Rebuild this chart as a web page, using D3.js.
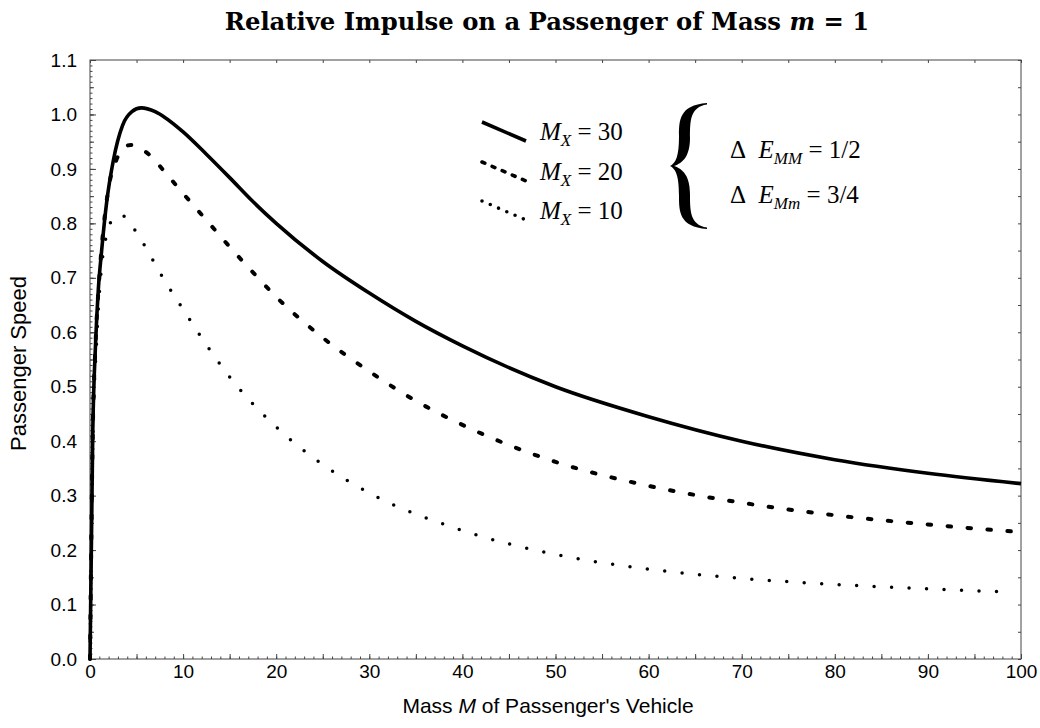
<!DOCTYPE html>
<html>
<head>
<meta charset="utf-8">
<script src="https://cdn.jsdelivr.net/npm/d3@7"></script>
<style>
  body { margin: 0; background: #fff; }
  svg { display: block; }
  .tick text { font-family: "Liberation Sans", Arial, sans-serif; font-size: 19px; fill: #000; }
</style>
</head>
<body>
<svg id="chart" width="1040" height="728"></svg>
<script>
// curve readings, [M, passenger speed]
var mx30 = [[0,0],[0.3,0.42],[0.6,0.58],[0.9,0.68],[1.25,0.75],[1.8,0.84],[2.5,0.915],[3.5,0.98],
  [4.5,1.005],[5.5,1.012],[7,1.005],[8,0.995],[10,0.968],[12.5,0.927],[15,0.884],[17.5,0.84],
  [20,0.80],[25,0.73],[30,0.672],[35,0.62],[40,0.575],[50,0.50],[60,0.445],[70,0.40],[80,0.366],[90,0.341],[100,0.322]];

var mx20 = [[0,0],[0.3,0.42],[0.6,0.58],[1.0,0.70],[1.5,0.80],[2.1,0.875],[2.8,0.915],[3.5,0.937],
  [4.4,0.944],[5.5,0.937],[6.5,0.924],[8.2,0.891],[10,0.855],[12.5,0.806],[15,0.757],
  [17.5,0.71],[20,0.665],[25,0.59],[30,0.528],[35,0.474],[40,0.43],[50,0.362],[60,0.318],[70,0.287],
  [80,0.264],[90,0.247],[100,0.233]];

var mx10 = [[0,0],[0.3,0.40],[0.7,0.58],[1.3,0.73],[1.6,0.764],[2.0,0.793],[2.6,0.81],[3.2,0.816],
  [4.0,0.808],[4.7,0.791],[5.8,0.761],[6.8,0.731],[7.8,0.701],[8.9,0.671],[10,0.642],[12.5,0.577],
  [15,0.518],[20,0.426],[25,0.357],[30,0.305],[40,0.236],[50,0.192],[60,0.165],[70,0.148],[80,0.137],
  [90,0.129],[98.5,0.123]];

var seriesNames = ["30", "20", "10"];
var xTickLabels = d3.range(0, 101, 10);
var yTickLabels = d3.range(0, 1.101, 0.1);

var svg = d3.select("#chart"),
    margin = {top: 60, left: 90, bottom: 69, right: 19},
    width = +svg.attr("width"),
    height = +svg.attr("height");

var x = d3.scaleLinear().domain([0, 100]).range([margin.left, width - margin.right]);
var y = d3.scaleLinear().domain([0, 1.1]).range([height - margin.bottom, margin.top]);

// title
var title = svg.append("text")
    .attr("x", 547).attr("y", 30)
    .attr("text-anchor", "middle")
    .style("font-family", "'DejaVu Serif', serif")
    .style("font-weight", "bold")
    .style("font-size", "20px");
title.append("tspan").text("Relative Impulse on a Passenger of Mass ");
title.append("tspan").style("font-style", "italic").text("m");
title.append("tspan").text(" = 1");
// squeeze the title to the width it has in the picture
var tw = title.node().getComputedTextLength();
title.style("font-size", (20 * 645 / tw) + "px");

// frame
svg.append("rect")
    .attr("x", x(0)).attr("y", y(1.1))
    .attr("width", x(100) - x(0)).attr("height", y(0) - y(1.1))
    .attr("fill", "none").attr("stroke", "#444").attr("stroke-width", 1);

// bottom ticks
svg.append("g").attr("transform", `translate(0,${y(0)})`)
    .call(d3.axisBottom(x).tickValues(d3.range(0, 101, 1)).tickSize(-2.5).tickFormat(""))
    .call(g => g.select(".domain").remove());
svg.append("g").attr("transform", `translate(0,${y(0)})`)
    .call(d3.axisBottom(x).tickValues(d3.range(0, 101, 5)).tickSize(-5).tickPadding(6)
        .tickFormat(d => xTickLabels.includes(d) ? d : ""))
    .call(g => g.select(".domain").remove());

// left ticks
svg.append("g").attr("transform", `translate(${x(0)},0)`)
    .call(d3.axisLeft(y).tickValues(d3.range(0, 1.1001, 0.01)).tickSize(-2.5).tickFormat(""))
    .call(g => g.select(".domain").remove());
svg.append("g").attr("transform", `translate(${x(0)},0)`)
    .call(d3.axisLeft(y).tickValues(d3.range(0, 1.1001, 0.05)).tickSize(-4).tickFormat(""))
    .call(g => g.select(".domain").remove());
svg.append("g").attr("transform", `translate(${x(0)},0)`)
    .call(d3.axisLeft(y).tickValues(yTickLabels).tickSize(-6).tickPadding(13).tickFormat(d3.format(".1f")))
    .call(g => g.select(".domain").remove());

// top and right ticks
svg.append("g").attr("transform", `translate(0,${y(1.1)})`)
    .call(d3.axisTop(x).tickValues(d3.range(0, 101, 5)).tickSize(-3).tickFormat(""))
    .call(g => g.select(".domain").remove());
svg.append("g").attr("transform", `translate(${x(100)},0)`)
    .call(d3.axisRight(y).tickValues(d3.range(0, 1.1001, 0.05)).tickSize(-3).tickFormat(""))
    .call(g => g.select(".domain").remove());

svg.selectAll(".tick line").attr("stroke", "#444");

// axis titles
svg.append("text")
    .attr("transform", `translate(26,${(y(0) + y(1.1)) / 2 + 4}) rotate(-90)`)
    .attr("text-anchor", "middle")
    .style("font-family", "'Liberation Sans', Arial, sans-serif")
    .style("font-size", "22px")
    .text("Passenger Speed");

var xt = svg.append("text")
    .attr("x", 548).attr("y", 713)
    .attr("text-anchor", "middle")
    .style("font-family", "'Liberation Sans', Arial, sans-serif")
    .style("font-size", "21px");
xt.append("tspan").text("Mass ");
xt.append("tspan").style("font-style", "italic").text("M");
xt.append("tspan").text(" of Passenger's Vehicle");

// curves
var line = d3.line().x(d => x(d[0])).y(d => y(d[1])).curve(d3.curveMonotoneX);

svg.append("path").datum(mx30).attr("d", line)
    .attr("fill", "none").attr("stroke", "#000").attr("stroke-width", 3.6);
svg.append("path").datum(mx20).attr("d", line)
    .attr("fill", "none").attr("stroke", "#000").attr("stroke-width", 4)
    .attr("stroke-linecap", "round").attr("stroke-dasharray", "3.5,16.5");
svg.append("path").datum(mx10).attr("d", line)
    .attr("fill", "none").attr("stroke", "#000").attr("stroke-width", 3.5)
    .attr("stroke-linecap", "round").attr("stroke-dasharray", "0,17.5");

// legend
var legendDash = [null, "3,8", "0,9"];
var legendY = [140, 180, 219];
seriesNames.forEach(function(s, i) {
    var ly = legendY[i];
    var seg = svg.append("line")
        .attr("x1", 482).attr("y1", ly - 18).attr("x2", 526).attr("y2", ly + 1)
        .attr("stroke", "#000").attr("stroke-width", 3.6)
        .attr("stroke-linecap", i == 0 ? "butt" : "round");
    if (legendDash[i]) seg.attr("stroke-dasharray", legendDash[i]);

    var t = svg.append("text").attr("x", 540).attr("y", ly)
        .style("font-family", "'Liberation Serif', 'DejaVu Serif', serif")
        .style("font-size", "25px");
    t.append("tspan").style("font-style", "italic").text("M");
    t.append("tspan").style("font-style", "italic").style("font-size", "17px").attr("dy", 6).text("X");
    t.append("tspan").attr("dy", -6).text(" = " + s);
});

// brace
var bx = {tip: 670, spine: 685, end: 707}, by = {top: 103, mid: 166, bot: 229};
var brace = d3.path();
brace.moveTo(bx.end, by.top);
brace.bezierCurveTo(bx.spine - 6, by.top + 2, bx.spine - 6, by.top + 18, bx.spine - 6, by.mid - 30);
brace.bezierCurveTo(bx.spine - 6, by.mid - 10, bx.tip + 6, by.mid - 3, bx.tip, by.mid);
brace.bezierCurveTo(bx.tip + 6, by.mid + 3, bx.spine - 6, by.mid + 10, bx.spine - 6, by.mid + 30);
brace.bezierCurveTo(bx.spine - 6, by.bot - 18, bx.spine - 6, by.bot - 2, bx.end, by.bot);
brace.lineTo(bx.end, by.bot - 1.5);
brace.bezierCurveTo(bx.spine + 5, by.bot - 4, bx.spine + 5, by.bot - 18, bx.spine + 5, by.mid + 28);
brace.bezierCurveTo(bx.spine + 5, by.mid + 10, bx.spine - 2, by.mid + 3, bx.tip + 4, by.mid);
brace.bezierCurveTo(bx.spine - 2, by.mid - 3, bx.spine + 5, by.mid - 10, bx.spine + 5, by.mid - 28);
brace.bezierCurveTo(bx.spine + 5, by.top + 18, bx.spine + 5, by.top + 4, bx.end, by.top + 1.5);
brace.closePath();
svg.append("path").attr("d", brace.toString()).attr("fill", "#000");

// energy conditions
var energy = [["MM", "1/2", 158], ["Mm", "3/4", 203]];
energy.forEach(function(e) {
    var t = svg.append("text").attr("x", 730).attr("y", e[2])
        .style("font-family", "'Liberation Serif', 'DejaVu Serif', serif")
        .style("font-size", "25px");
    t.append("tspan").text("\u0394\u2002");
    t.append("tspan").style("font-style", "italic").text("E");
    t.append("tspan").style("font-style", "italic").style("font-size", "17px").attr("dy", 6).text(e[0]);
    t.append("tspan").attr("dy", -6).text(" = " + e[1]);
});
</script>
</body>
</html>
